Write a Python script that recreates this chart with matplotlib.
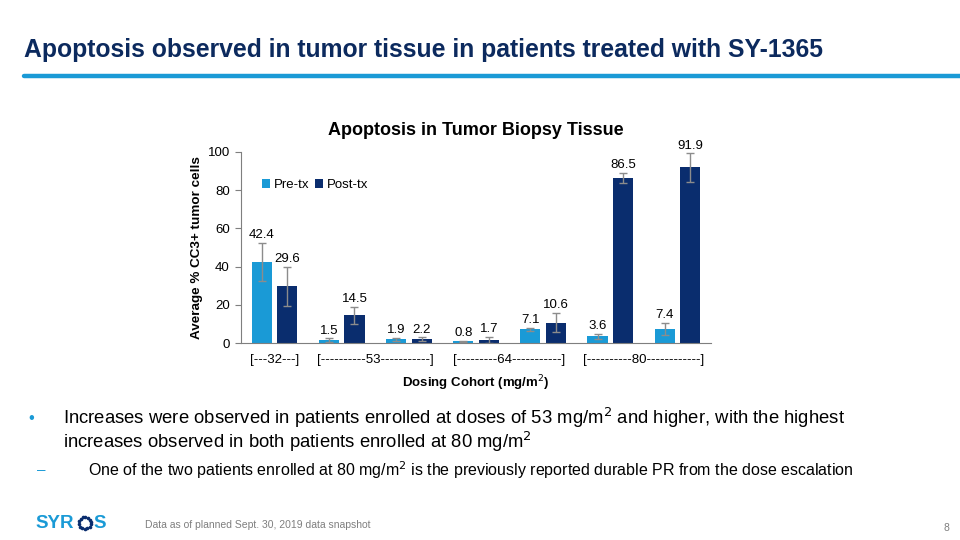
import numpy as np
import matplotlib.pyplot as plt
from matplotlib.lines import Line2D

plt.rcParams['font.family'] = ['Liberation Sans', 'DejaVu Sans']

# data
pre_tx = [42.4, 1.5, 1.9, 0.8, 7.1, 3.6, 7.4]
post_tx = [29.6, 14.5, 2.2, 1.7, 10.6, 86.5, 91.9]
pre_err = [10.0, 1.0, 0.8, 0.3, 0.8, 1.3, 3.3]
post_err = [10.4, 4.6, 0.9, 1.5, 5.1, 2.5, 7.5]
cohort_labels = ['[---32---]', '[----------53-----------]',
                 '[---------64-----------]', '[----------80------------]']
cohort_centers = [0, 1.5, 3.5, 5.5]

LIGHT = '#1a9ad6'
NAVY = '#0a2d6e'
TITLE = '#0c2a5e'

W, H = 960, 540
fig = plt.figure(figsize=(9.6, 5.4), dpi=100)


def px(x, y):
    return x / W, 1 - y / H


# slide title + rule
fig.text(*px(24, 50), 'Apoptosis observed in tumor tissue in patients treated with SY-1365',
         fontweight='bold', fontsize=17.8, color=TITLE, va='center', ha='left')
fig.add_artist(Line2D([24 / W, 1], [1 - 76 / H] * 2, color=LIGHT, lw=3.2, solid_capstyle='round'))

# chart
ax = fig.add_axes([241 / W, 1 - 343 / H, 470 / W, 191 / H])
x = np.arange(len(pre_tx))
bw, off = 0.3, 0.19
ekw = dict(ecolor='#8c8c8c', elinewidth=1, capsize=3, capthick=1)
ax.bar(x - off, pre_tx, bw, color=LIGHT, yerr=pre_err, error_kw=ekw, label='Pre-tx')
ax.bar(x + off, post_tx, bw, color=NAVY, yerr=post_err, error_kw=ekw, label='Post-tx')

for xi, v, e in zip(x - off, pre_tx, pre_err):
    ax.text(xi, v + e + 0.8, f'{v}', ha='center', va='bottom', fontsize=9.5, clip_on=False)
for xi, v, e in zip(x + off, post_tx, post_err):
    ax.text(xi, v + e + 0.8, f'{v}', ha='center', va='bottom', fontsize=9.5, clip_on=False)

ax.set_xlim(-0.5, 6.5)
ax.set_ylim(0, 100)
ax.set_yticks([0, 20, 40, 60, 80, 100])
ax.tick_params(axis='y', labelsize=9.5, length=4, color='#7f7f7f', pad=4)
ax.set_xticks([])
for s in ['top', 'right']:
    ax.spines[s].set_visible(False)
ax.spines['left'].set_color('#7f7f7f')
ax.spines['bottom'].set_color('#7f7f7f')

tr = ax.get_xaxis_transform()
for c, lab in zip(cohort_centers, cohort_labels):
    ax.text(c, -0.09, lab, transform=tr, ha='center', va='center', fontsize=9.5)

ax.set_xlabel('Dosing Cohort (mg/m$^{2}$)', fontsize=9.5, fontweight='bold', labelpad=22)
ax.set_ylabel('Average % CC3+ tumor cells', fontsize=9.7, fontweight='bold', labelpad=3)
ax.set_title('Apoptosis in Tumor Biopsy Tissue', fontsize=13, fontweight='bold', pad=12)

ax.legend(loc='upper left', bbox_to_anchor=(0.02, 0.92), ncol=2, frameon=False, fontsize=9.5,
          handlelength=0.6, handleheight=0.6, handletextpad=0.3, columnspacing=0.4)

# bullets
fig.text(*px(28, 418), '•', color=LIGHT, fontsize=12, va='center')
fig.text(*px(63, 418), 'Increases were observed in patients enrolled at doses of 53 mg/m$^{2}$ and higher, with the highest',
         fontsize=13.3, va='center')
fig.text(*px(63, 442), 'increases observed in both patients enrolled at 80 mg/m$^{2}$', fontsize=13.3, va='center')
fig.text(*px(37, 470), '–', color=LIGHT, fontsize=11, va='center')
fig.text(*px(88, 470), 'One of the two patients enrolled at 80 mg/m$^{2}$ is the previously reported durable PR from the dose escalation',
         fontsize=11.5, va='center')

# footer
fig.text(*px(35, 524), 'SYR', color=LIGHT, fontsize=13.5, fontweight='bold', va='center')
fig.text(*px(93, 524), 'S', color=LIGHT, fontsize=13.5, fontweight='bold', va='center')
ang = np.linspace(0.6, 2 * np.pi + 0.2, 14)
fig.add_artist(Line2D(px(85, 0)[0] + 6 / W * np.cos(ang),
                      1 - 523 / H + 6 / H * np.sin(ang),
                      ls='none', marker='o', ms=1.6, color=NAVY))
fig.text(*px(145, 525), 'Data as of planned Sept. 30, 2019 data snapshot', color='#7f7f7f',
         fontsize=7.5, va='center')
fig.text(*px(946, 528), '8', color='#7f7f7f', fontsize=7.5, va='center', ha='center')

fig.savefig('out.png', dpi=100)
